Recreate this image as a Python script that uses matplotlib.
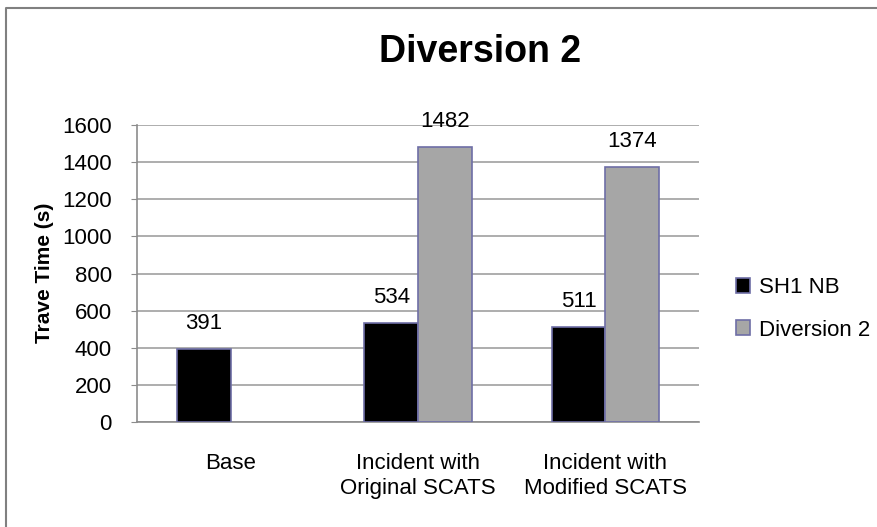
import numpy as np
import matplotlib
matplotlib.use("Agg")
import matplotlib.pyplot as plt
from matplotlib.lines import Line2D

plt.rcParams['font.family'] = ['Liberation Sans', 'DejaVu Sans']

# datos del grafico
categorias = ["Base", "Incident with\nOriginal SCATS", "Incident with\nModified SCATS"]
sh1_nb = [391, 534, 511]
diversion2 = [np.nan, 1482, 1374]
series = ["SH1 NB", "Diversion 2"]
yticks = [0, 200, 400, 600, 800, 1000, 1200, 1400, 1600]

W, H = 877, 527
fig = plt.figure(figsize=(W/100, H/100), dpi=100)
ax = fig.add_axes([137/W, 1-422/H, 562/W, 297/H])

x = np.arange(len(categorias))
ancho = 0.2857
borde = "#6e6ea6"
b1 = ax.bar(x-ancho/2, sh1_nb, ancho, color="black", edgecolor=borde, linewidth=1.2, label=series[0], zorder=3)
b2 = ax.bar(x+ancho/2, diversion2, ancho, color="#a6a6a6", edgecolor=borde, linewidth=1.2, label=series[1], zorder=3)

ax.bar_label(b1, labels=[str(v) for v in sh1_nb], padding=11, fontsize=16)
ax.bar_label(b2, labels=["" if np.isnan(v) else str(int(v)) for v in diversion2], padding=11, fontsize=16)

ax.set_xlim(-0.5, 2.5)
ax.set_ylim(0, 1600)
ax.set_yticks(yticks)
ax.set_xticks(x)
ax.set_xticklabels(categorias, fontsize=16, linespacing=1.3)
ax.tick_params(axis="x", length=0, pad=22)
ax.tick_params(axis="y", labelsize=16, length=4, color="#8c8c8c", pad=14)
ax.yaxis.grid(True, color="#a0a0a0", linewidth=1.2, zorder=0)
ax.set_axisbelow(True)
for s in ["top", "right"]:
    ax.spines[s].set_visible(False)
for s in ["left", "bottom"]:
    ax.spines[s].set_color("#8c8c8c")
    ax.spines[s].set_linewidth(1.2)

fig.text(45/W, 1-273/H, "Trave Time (s)", rotation=90, fontsize=15, fontweight="bold", ha="center", va="center")
fig.text(480/W, 1-52/H, "Diversion 2", fontsize=27, fontweight="bold", ha="center", va="center")

fig.legend(handles=[b1, b2], loc="center left", bbox_to_anchor=(736/W, 1-309/H), frameon=False,
           fontsize=16, handlelength=0.65, handleheight=0.65, handletextpad=0.4,
           labelspacing=0.95, borderpad=0, borderaxespad=0)

# borde exterior
fig.add_artist(Line2D([6/W, 6/W, 1], [0, 1-8/H, 1-8/H], transform=fig.transFigure, color="#808080", linewidth=1.5))

plt.savefig("out.png", dpi=100)
